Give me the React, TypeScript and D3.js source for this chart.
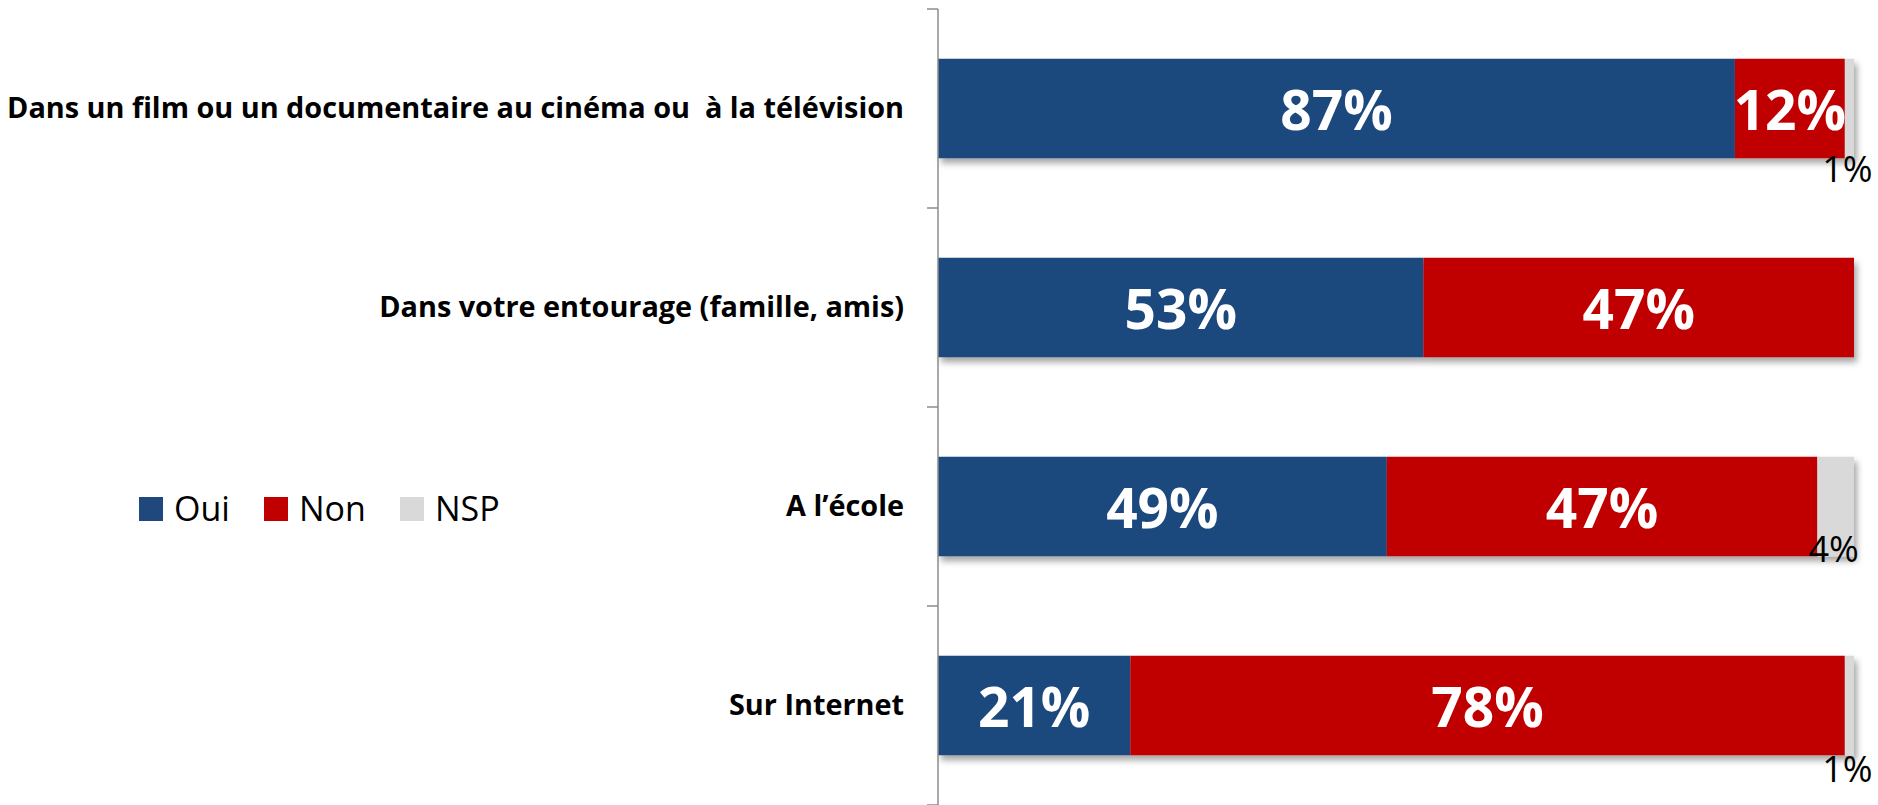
import React from "react";
import * as d3 from "d3";

const categories = [
  "Dans un film ou un documentaire au cinéma ou  à la télévision",
  "Dans votre entourage (famille, amis)",
  "A l’école",
  "Sur Internet",
];
const seriesNames = ["Oui", "Non", "NSP"];
const oui = [87, 53, 49, 21];
const non = [12, 47, 47, 78];
const nsp = [1, 0, 4, 1];

const colors = ["#1F497D", "#C00000", "#D9D9D9"];
// vertical offset of the small outside NSP labels below bar bottom (layout)
const nspLabelDy = [24, 0, 6, 27];

const W = 1878;
const H = 805;
const axisX = 938;
const fullX = 1854;

export default function App() {
  const x = d3.scaleLinear().domain([0, 100]).range([axisX, fullX]);
  const y = d3
    .scaleBand<string>()
    .domain(categories)
    .range([9, 805])
    .paddingInner(0.5)
    .paddingOuter(0.25);
  const step = y.step();
  const rows = categories.map((c, i) => {
    const vals = [oui[i], non[i], nsp[i]];
    let acc = 0;
    const segs = vals.map((v, k) => {
      const s = { k, x0: acc, x1: acc + v, v };
      acc += v;
      return s;
    });
    return { c, i, segs };
  });
  const tickYs = d3.range(categories.length + 1).map((i) => 9 + i * step);

  return (
    <svg
      width={W}
      height={H}
      style={{ position: "absolute", left: 0, top: 0, background: "#fff" }}
      fontFamily="'Open Sans', sans-serif"
    >
      <defs>
        <filter id="sh" x="-5%" y="-20%" width="115%" height="160%">
          <feDropShadow dx="3" dy="5" stdDeviation="3" floodColor="#000" floodOpacity="0.35" />
        </filter>
      </defs>
      {rows.map((r) => {
        const y0 = y(r.c)!;
        const bh = y.bandwidth();
        return (
          <g key={r.c}>
            <g filter="url(#sh)">
              {r.segs
                .filter((s) => s.v > 0)
                .map((s) => (
                  <rect
                    key={s.k}
                    x={x(s.x0)}
                    y={y0}
                    width={x(s.x1) - x(s.x0)}
                    height={bh}
                    fill={colors[s.k]}
                  />
                ))}
            </g>
            {r.segs
              .filter((s) => s.v > 0)
              .map((s) => {
                const cx = (x(s.x0) + x(s.x1)) / 2;
                if (s.k < 2) {
                  return (
                    <text
                      key={"t" + s.k}
                      x={cx}
                      y={y0 + bh / 2 + 21}
                      textAnchor="middle"
                      fill="#fff"
                      fontWeight={700}
                      fontSize={55}
                    >
                      {s.v}%
                    </text>
                  );
                }
                return (
                  <text
                    key={"t" + s.k}
                    x={cx - 2}
                    y={y0 + bh + nspLabelDy[r.i]}
                    textAnchor="middle"
                    fill="#000"
                    fontSize={36}
                  >
                    {s.v}%
                  </text>
                );
              })}
            <text
              x={904}
              y={y0 + bh / 2 + 10}
              textAnchor="end"
              fontWeight={700}
              fontSize={28}
              fill="#000"
              style={{ whiteSpace: "pre" }}
              transform={`translate(904,0) scale(1.03,1) translate(-904,0)`}
            >
              {r.c}
            </text>
          </g>
        );
      })}
      <g stroke="#8C8C8C" strokeWidth={1.5}>
        <line x1={axisX} x2={axisX} y1={9} y2={H} />
        {tickYs.map((t, i) => (
          <line key={i} x1={927} x2={axisX} y1={t} y2={t} />
        ))}
      </g>
      <g>
        {seriesNames.map((n, k) => {
          const lx = [139, 264, 400][k];
          return (
            <g key={n}>
              <rect x={lx} y={497} width={24} height={24} fill={colors[k]} />
              <text x={lx + 35} y={521} fontSize={34} fill="#000">
                {n}
              </text>
            </g>
          );
        })}
      </g>
    </svg>
  );
}
